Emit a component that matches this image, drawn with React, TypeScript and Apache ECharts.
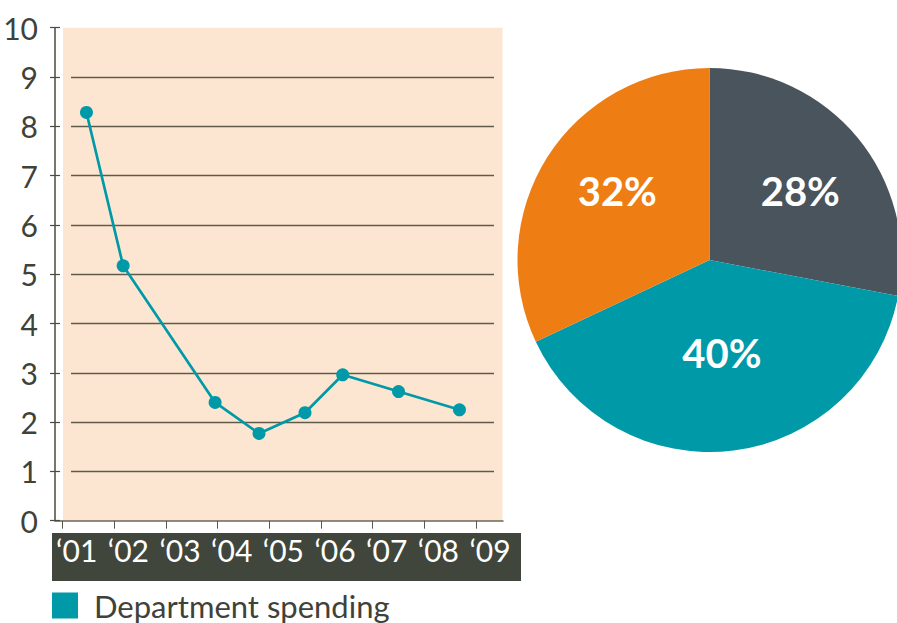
import React, { useEffect, useRef } from "react";
import * as echarts from "echarts";

// ---- data ----
const lineName = "Department spending";
const pointYears = [2001.46, 2002.17, 2003.95, 2004.8, 2005.69, 2006.42, 2007.5, 2008.68];
const pointValues = [8.28, 5.17, 2.4, 1.77, 2.19, 2.96, 2.62, 2.25];
const xTickLabels = ["‘01", "‘02", "‘03", "‘04", "‘05", "‘06", "‘07", "‘08", "‘09"];
const yTickLabels = ["0", "1", "2", "3", "4", "5", "6", "7", "8", "9", "10"];
const pieNames = ["A", "B", "C"];
const pieValues = [28, 40, 32];

const FONT = "Lato, 'Noto Sans', sans-serif";
const TEAL = "#0099a7";
const DARK = "#4a545c";
const ORANGE = "#ee7d13";
const PEACH = "#fde6d1";
const BAND = "#40463b";
const AXIS = "#4a4a40";
const TEXT = "#3f4238";

export default function App() {
  const ref = useRef<HTMLDivElement>(null);
  useEffect(() => {
    if (!ref.current) return;
    const chart = echarts.init(ref.current, undefined, { renderer: "svg" });
    const W = 897;
    const H = 623;
    const yTop = 27.7;
    const yBottom = 520.7;
    const xLeft = 62.7;
    const xRight = 476;
    const labelShift = 14;
    const option: any = {
      animation: false,
      backgroundColor: "#ffffff",
      textStyle: { fontFamily: FONT },
      graphic: [
        { type: "rect", z: -10, shape: { x: 63, y: yTop, width: 439.5, height: yBottom - yTop }, style: { fill: PEACH } },
        { type: "rect", z: -10, shape: { x: 52, y: 533, width: 469, height: 48 }, style: { fill: BAND } },
      ],
      legend: {
        data: [lineName],
        left: 52,
        top: 590,
        padding: 0,
        icon: "rect",
        itemWidth: 26,
        itemHeight: 26,
        formatter: (name: string) => "{g|}{t|" + name + "}",
        textStyle: {
          fontSize: 31,
          lineHeight: 26,
          color: TEXT,
          fontFamily: FONT,
          rich: {
            g: { width: 11, lineHeight: 26 },
            t: { fontSize: 31, lineHeight: 26, color: TEXT, fontFamily: FONT },
          },
        },
      },
      grid: [
        // data grid (ticks)
        { left: xLeft, right: W - xRight, top: yTop, bottom: H - yBottom },
        // frame grid (axis lines, y labels)
        { left: 55, right: W - 503, top: yTop, bottom: H - yBottom },
        // split lines grid
        { left: 71, right: W - 494, top: yTop + 49.3, bottom: H - (yBottom - 49.3) },
        // x label grid (shifted right)
        { left: xLeft + labelShift, right: W - xRight - labelShift, top: yTop, bottom: H - yBottom },
      ],
      xAxis: [
        {
          gridIndex: 0,
          type: "value",
          min: 2001,
          max: 2009,
          interval: 1,
          offset: 5,
          axisLine: { show: false },
          axisTick: { show: true, length: 8, lineStyle: { color: "#5a574c", width: 1 } },
          splitLine: { show: false },
          axisLabel: { show: false },
        },
        {
          gridIndex: 1,
          type: "value",
          min: 0,
          max: 1,
          axisLine: { show: true, onZero: false, lineStyle: { color: "#6b675a", width: 1.5 } },
          axisTick: { show: false },
          axisLabel: { show: false },
          splitLine: { show: false },
        },
        {
          gridIndex: 2,
          type: "value",
          min: 0,
          max: 1,
          show: false,
        },
        {
          gridIndex: 3,
          type: "value",
          min: 2001,
          max: 2009,
          interval: 1,
          offset: 5,
          axisLine: { show: false },
          axisTick: { show: false },
          splitLine: { show: false },
          axisLabel: {
            show: true,
            showMinLabel: true,
            showMaxLabel: true,
            hideOverlap: false,
            formatter: (v: number) => xTickLabels[Math.round(v - 2001)],
            color: "#ffffff",
            fontSize: 30,
            fontFamily: FONT,
            lineHeight: 30,
            margin: 9,
            align: "center",
          },
        },
      ],
      yAxis: [
        { gridIndex: 0, type: "value", min: 0, max: 10, show: false },
        {
          gridIndex: 1,
          type: "value",
          position: "left",
          min: 0,
          max: 10,
          interval: 1,
          axisLine: { show: true, lineStyle: { color: AXIS, width: 1.5 } },
          axisTick: { show: true, length: 5, lineStyle: { color: AXIS, width: 1.2 } },
          splitLine: { show: false },
          axisLabel: {
            show: true,
            formatter: (v: number) => yTickLabels[Math.round(v)],
            color: TEXT,
            fontSize: 30,
            fontFamily: FONT,
            margin: 17,
          },
        },
        {
          gridIndex: 1,
          type: "value",
          position: "left",
          min: 0,
          max: 10,
          interval: 1,
          axisLine: { show: false },
          axisTick: { show: true, inside: true, length: 5, lineStyle: { color: AXIS, width: 1.2 } },
          axisLabel: { show: false },
          splitLine: { show: false },
        },
        {
          gridIndex: 2,
          type: "value",
          min: 1,
          max: 9,
          interval: 1,
          axisLine: { show: false },
          axisTick: { show: false },
          axisLabel: { show: false },
          splitLine: { show: true, lineStyle: { color: "#5f5a4c", width: 1.3 } },
        },
        { gridIndex: 3, type: "value", min: 0, max: 10, show: false },
      ],
      series: [
        {
          name: lineName,
          type: "line",
          xAxisIndex: 0,
          yAxisIndex: 0,
          data: pointYears.map((x, i) => [x, pointValues[i]]),
          color: TEAL,
          lineStyle: { color: TEAL, width: 2.7 },
          itemStyle: { color: TEAL },
          symbol: "circle",
          symbolSize: 13,
          showSymbol: true,
          z: 5,
        },
        {
          type: "pie",
          center: [709.5, 260],
          radius: 192,
          startAngle: 90,
          clockwise: true,
          silent: true,
          legendHoverLink: false,
          itemStyle: { borderWidth: 0 },
          label: {
            show: true,
            position: "inside",
            formatter: "{c}%",
            color: "#ffffff",
            fontSize: 40,
            fontWeight: "bold",
            fontFamily: FONT,
          },
          labelLine: { show: false },
          data: pieValues.map((v, i) => ({
            name: pieNames[i],
            value: v,
            itemStyle: { color: [DARK, TEAL, ORANGE][i] },
            label: { offset: [[14.5, -6], [0, -5], [-8.6, -16]][i] },
          })),
        },
      ],
    };
    chart.setOption(option);
    return () => chart.dispose();
  }, []);
  return (
    <div
      ref={ref}
      style={{ position: "fixed", left: 0, top: 0, width: 897, height: 623 }}
    />
  );
}
